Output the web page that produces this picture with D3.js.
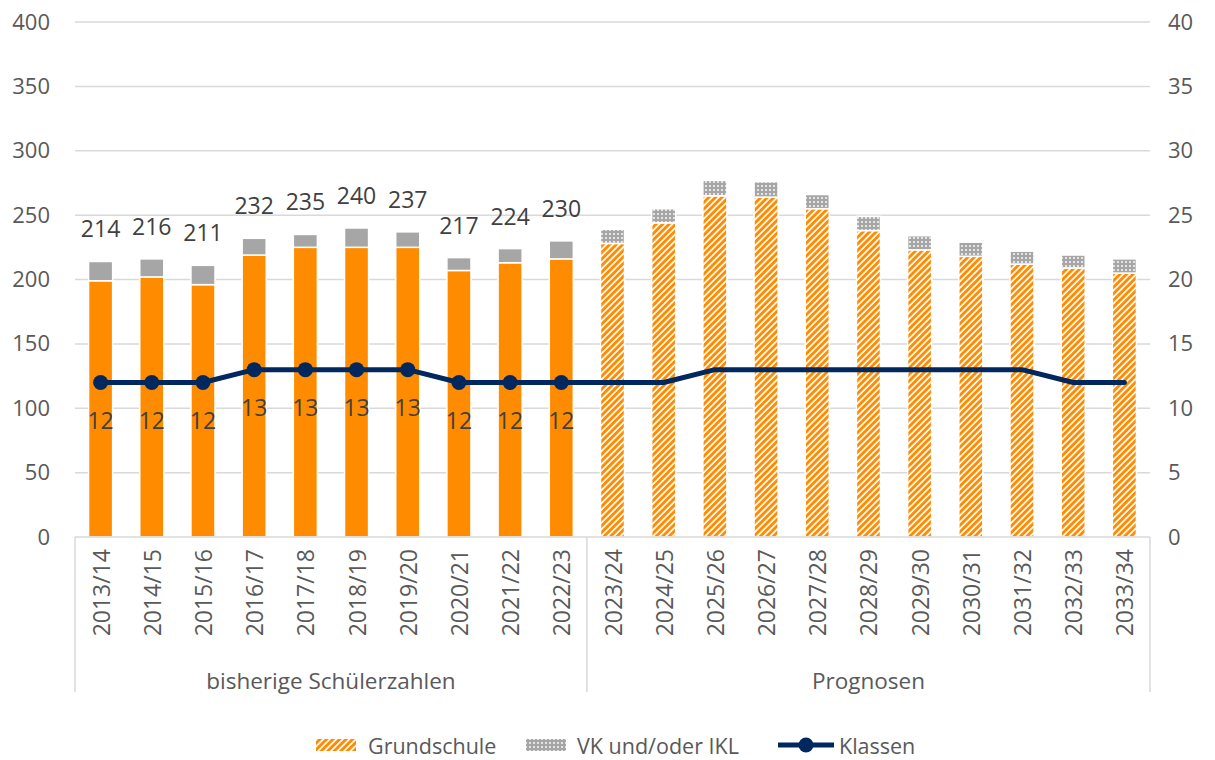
<!DOCTYPE html>
<html>
<head>
<meta charset="utf-8">
<script src="https://cdn.jsdelivr.net/npm/d3@7"></script>
<style>
  body { margin: 0; background: #fff; }
  text { font-family: "Open Sans", sans-serif; }
</style>
</head>
<body>
<div id="chart"></div>
<script>
// schuljahre + werte
const years = ["2013/14","2014/15","2015/16","2016/17","2017/18","2018/19","2019/20","2020/21","2021/22","2022/23",
  "2023/24","2024/25","2025/26","2026/27","2027/28","2028/29","2029/30","2030/31","2031/32","2032/33","2033/34"];
const grundschule = [199,202,196,219,225,225,225,207,213,216, 228,244,265,264,255,238,223,218,212,209,205];
const vkIkl = [15,14,15,13,10,15,12,10,11,14, 11,11,12,12,11,11,11,11,10,10,11];
const klassen = [12,12,12,13,13,13,13,12,12,12, 12,12,13,13,13,13,13,13,13,12,12];
const groups = ["bisherige Schülerzahlen", "Prognosen"];
const histCount = 10;
const leftTicks = [0,50,100,150,200,250,300,350,400];
const rightTicks = [0,5,10,15,20,25,30,35,40];

const width = 1215, height = 760;
const plot = { left: 75, right: 1150, top: 22, bottom: 537 };
const orange = "#FF8C00", grey = "#A6A6A6", navy = "#00285E";
const gridColor = "#D9D9D9", textColor = "#595959", labelColor = "#404040";

const svg = d3.select("#chart").append("svg")
  .attr("width", width)
  .attr("height", height);

// patterns for the prognosis bars
const defs = svg.append("defs");
const hatch = defs.append("pattern")
  .attr("id", "hatch")
  .attr("patternUnits", "userSpaceOnUse")
  .attr("width", 4.6).attr("height", 4.6)
  .attr("patternTransform", "rotate(45)");
hatch.append("rect").attr("width", 4.6).attr("height", 4.6).attr("fill", "#fff");
hatch.append("rect").attr("width", 2.9).attr("height", 4.6).attr("fill", orange);

const dots = defs.append("pattern")
  .attr("id", "dots")
  .attr("patternUnits", "userSpaceOnUse")
  .attr("width", 4).attr("height", 4);
dots.append("rect").attr("width", 4).attr("height", 4).attr("fill", grey);
dots.append("rect").attr("x", 1).attr("y", 1).attr("width", 2).attr("height", 2).attr("fill", "#E4E4E4");

const x = d3.scaleBand()
  .domain(years)
  .range([plot.left, plot.right])
  .paddingInner(0.53)
  .paddingOuter(0.265);

const y = d3.scaleLinear().domain([0, 400]).range([plot.bottom, plot.top]);
const yR = d3.scaleLinear().domain([0, 40]).range([plot.bottom, plot.top]);

// gridlines
svg.append("g").selectAll("line")
  .data(leftTicks.filter(d => d > 0))
  .join("line")
  .attr("x1", plot.left).attr("x2", plot.right)
  .attr("y1", d => y(d)).attr("y2", d => y(d))
  .attr("stroke", gridColor).attr("stroke-width", 1.5);

// left axis
const yAxis = svg.append("g")
  .attr("transform", `translate(${plot.left - 25},0)`)
  .call(d3.axisLeft(y).tickValues(leftTicks).tickSize(0).tickPadding(0));
yAxis.select(".domain").remove();
yAxis.selectAll("text")
  .attr("fill", textColor)
  .style("font-size", "22px");

// right axis
const yAxisR = svg.append("g")
  .attr("transform", `translate(${plot.right + 18},0)`)
  .call(d3.axisRight(yR).tickValues(rightTicks).tickSize(0).tickPadding(0));
yAxisR.select(".domain").remove();
yAxisR.selectAll("text")
  .attr("fill", textColor)
  .style("font-size", "22px");

// bars
const rows = years.map((yr, i) => ({ yr, i, g: grundschule[i], v: vkIkl[i], k: klassen[i] }));

svg.append("g").selectAll("rect")
  .data(rows)
  .join("rect")
  .attr("x", d => x(d.yr))
  .attr("width", x.bandwidth())
  .attr("y", d => y(d.g))
  .attr("height", d => y(0) - y(d.g))
  .attr("fill", d => d.i < histCount ? orange : "url(#hatch)")
  .attr("stroke", "#fff").attr("stroke-width", 1.5);

svg.append("g").selectAll("rect")
  .data(rows)
  .join("rect")
  .attr("x", d => x(d.yr))
  .attr("width", x.bandwidth())
  .attr("y", d => y(d.g + d.v))
  .attr("height", d => y(d.g) - y(d.g + d.v))
  .attr("fill", d => d.i < histCount ? grey : "url(#dots)")
  .attr("stroke", "#fff").attr("stroke-width", 1.5);

// totals above the past bars
svg.append("g").selectAll("text")
  .data(rows.filter(d => d.i < histCount))
  .join("text")
  .attr("x", d => x(d.yr) + x.bandwidth() / 2)
  .attr("y", d => y(d.g + d.v) - 33)
  .attr("text-anchor", "middle")
  .attr("dominant-baseline", "central")
  .attr("fill", labelColor)
  .style("font-size", "23px")
  .text(d => d.g + d.v);

// category axis
const axisG = svg.append("g").attr("stroke", gridColor).attr("stroke-width", 1.5);
axisG.append("line")
  .attr("x1", plot.left).attr("x2", plot.right)
  .attr("y1", plot.bottom).attr("y2", plot.bottom);
const sepX = [plot.left, x(years[histCount]) - x.step() * x.paddingInner() / 2, plot.right];
axisG.selectAll(".sep")
  .data(sepX)
  .join("line")
  .attr("class", "sep")
  .attr("x1", d => d).attr("x2", d => d)
  .attr("y1", plot.bottom).attr("y2", 692);

svg.append("g").selectAll("text")
  .data(years)
  .join("text")
  .attr("transform", d => `translate(${x(d) + x.bandwidth() / 2},549) rotate(-90)`)
  .attr("text-anchor", "end")
  .attr("dominant-baseline", "central")
  .attr("fill", textColor)
  .style("font-size", "23px")
  .text(d => d);

svg.append("g").selectAll("text")
  .data(groups)
  .join("text")
  .attr("x", (d, i) => (sepX[i] + sepX[i + 1]) / 2)
  .attr("y", 680)
  .attr("text-anchor", "middle")
  .attr("dominant-baseline", "central")
  .attr("fill", textColor)
  .style("font-size", "22.5px")
  .text(d => d);

// Klassen line
const line = d3.line()
  .x(d => x(d.yr) + x.bandwidth() / 2)
  .y(d => yR(d.k));

svg.append("path")
  .datum(rows)
  .attr("d", line)
  .attr("fill", "none")
  .attr("stroke", navy)
  .attr("stroke-width", 5)
  .attr("stroke-linejoin", "round")
  .attr("stroke-linecap", "round");

svg.append("g").selectAll("circle")
  .data(rows.filter(d => d.i < histCount))
  .join("circle")
  .attr("cx", d => x(d.yr) + x.bandwidth() / 2)
  .attr("cy", d => yR(d.k))
  .attr("r", 7.5)
  .attr("fill", navy);

svg.append("g").selectAll("text")
  .data(rows.filter(d => d.i < histCount))
  .join("text")
  .attr("x", d => x(d.yr) + x.bandwidth() / 2)
  .attr("y", d => yR(d.k) + 37)
  .attr("text-anchor", "middle")
  .attr("dominant-baseline", "central")
  .attr("fill", labelColor)
  .style("font-size", "23px")
  .text(d => d.k);

// legend
const legend = svg.append("g").attr("transform", "translate(0,745)");
legend.append("rect").attr("x", 316).attr("y", -6).attr("width", 40).attr("height", 12).attr("fill", "url(#hatch)");
legend.append("text").attr("x", 368).attr("dominant-baseline", "central").attr("fill", textColor)
  .style("font-size", "21.5px").text("Grundschule");
legend.append("rect").attr("x", 526).attr("y", -6).attr("width", 40).attr("height", 12).attr("fill", "url(#dots)");
legend.append("text").attr("x", 577).attr("dominant-baseline", "central").attr("fill", textColor)
  .style("font-size", "21.5px").text("VK und/oder IKL");
legend.append("line").attr("x1", 778).attr("x2", 834).attr("y1", 0).attr("y2", 0)
  .attr("stroke", navy).attr("stroke-width", 5);
legend.append("circle").attr("cx", 806).attr("cy", 0).attr("r", 7.5).attr("fill", navy);
legend.append("text").attr("x", 839).attr("dominant-baseline", "central").attr("fill", textColor)
  .style("font-size", "21.5px").text("Klassen");
</script>
</body>
</html>
